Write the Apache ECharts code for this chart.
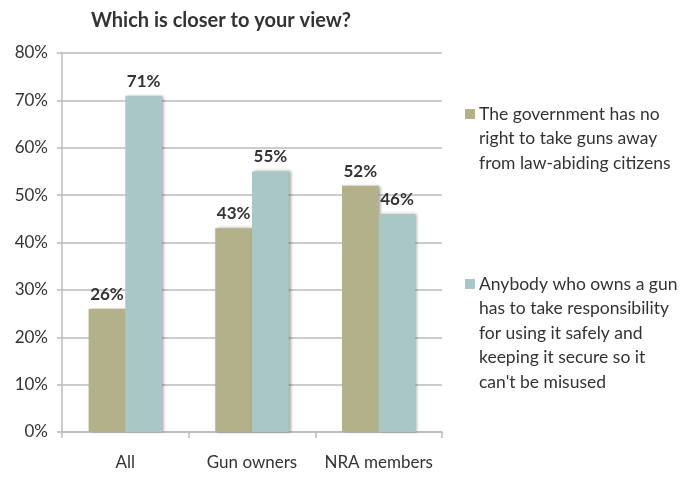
<!DOCTYPE html>
<html><head><meta charset="utf-8">
<script src="https://cdn.jsdelivr.net/npm/echarts@6/dist/echarts.min.js"></script>
<style>html,body{margin:0;padding:0;background:#fff}#c{width:690px;height:479px}</style>
</head><body><div id="c"></div>
<script>
const categories = ['All', 'Gun owners', 'NRA members'];
const seriesNames = ['The government has no\nright to take guns away\nfrom law-abiding citizens',
  'Anybody who owns a gun\nhas to take responsibility\nfor using it safely and\nkeeping it secure so it\ncan\'t be misused'];
const noRight = [26, 43, 52];
const responsibility = [71, 55, 46];
const colors = ['#b3b18a', '#a8c7c6'];
const FONT = 'Lato';

const chart = echarts.init(document.getElementById('c'));
const barStyle = (c) => ({color: c, shadowColor: 'rgba(0,0,0,0.35)', shadowBlur: 3, shadowOffsetX: 2, shadowOffsetY: 0});
chart.setOption({
  animation: false,
  textStyle: {fontFamily: FONT},
  title: {text: 'Which is closer to your view?', left: 216, top: 6, textAlign: 'center',
    textStyle: {fontFamily: FONT, fontSize: 20, fontWeight: 'bold', color: '#333'}},
  grid: {left: 62, right: 248, top: 53, bottom: 47},
  xAxis: {type: 'category', data: categories,
    axisLine: {lineStyle: {color: '#bbb', width: 1.5}},
    axisTick: {show: true, length: 6, lineStyle: {color: '#bbb', width: 1.5}},
    axisLabel: {interval: 0, fontSize: 17, color: '#333', margin: 22, fontFamily: FONT}},
  yAxis: {type: 'value', min: 0, max: 80, interval: 10,
    axisLine: {show: true, lineStyle: {color: '#bbb', width: 1.5}},
    axisTick: {show: true, length: 5, lineStyle: {color: '#bbb', width: 1.5}},
    splitLine: {lineStyle: {color: '#ccc', width: 2}},
    axisLabel: {formatter: '{value}%', fontSize: 17, color: '#333', margin: 14, fontFamily: FONT}},
  series: [
    {name: seriesNames[0], type: 'bar', data: noRight, barGap: '0%', barCategoryGap: '42%',
     itemStyle: barStyle(colors[0]),
     label: {show: true, position: 'top', formatter: '{c}%', fontSize: 17, fontWeight: 'bold', color: '#333', distance: 6, fontFamily: FONT}},
    {name: seriesNames[1], type: 'bar', data: responsibility, barGap: '0%', barCategoryGap: '42%',
     itemStyle: barStyle(colors[1]),
     label: {show: true, position: 'top', formatter: '{c}%', fontSize: 17, fontWeight: 'bold', color: '#333', distance: 6, fontFamily: FONT}}
  ],
  graphic: [
    {type: 'rect', left: 465, top: 109, shape: {width: 10, height: 10}, style: {fill: colors[0]}},
    {type: 'text', left: 479, top: 102, style: {text: seriesNames[0], font: '17.5px ' + FONT, fill: '#333', lineHeight: 24.5}},
    {type: 'rect', left: 465, top: 279, shape: {width: 10, height: 10}, style: {fill: colors[1]}},
    {type: 'text', left: 479, top: 272, style: {text: seriesNames[1], font: '17.5px ' + FONT, fill: '#333', lineHeight: 24.5}}
  ]
});
</script></body></html>
